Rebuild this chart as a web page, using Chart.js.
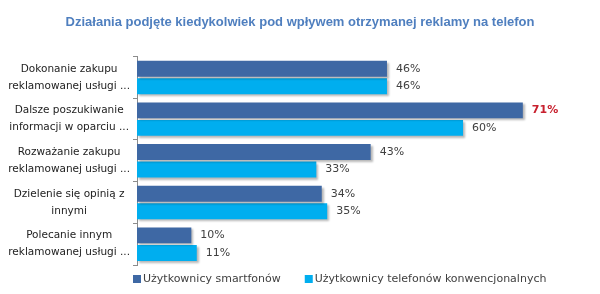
<!DOCTYPE html>
<html>
<head>
<meta charset="utf-8">
<script src="https://cdn.jsdelivr.net/npm/chart.js@4/dist/chart.umd.min.js"></script>
<style>
html,body{margin:0;padding:0;background:#fff;}
#wrap{width:600px;height:294px;position:relative;}
</style>
</head>
<body>
<div id="wrap"><canvas id="c" width="600" height="294"></canvas></div>
<script>
const titleText = 'Działania podjęte kiedykolwiek pod wpływem otrzymanej reklamy na telefon';
const categories = [
  ['Dokonanie zakupu', 'reklamowanej usługi ...'],
  ['Dalsze poszukiwanie', 'informacji w oparciu ...'],
  ['Rozważanie zakupu', 'reklamowanej usługi ...'],
  ['Dzielenie się opinią z', 'innymi'],
  ['Polecanie innym', 'reklamowanej usługi ...']
];
const seriesNames = ['Użytkownicy smartfonów', 'Użytkownicy telefonów konwencjonalnych'];
const smartfony = [46, 71, 43, 34, 10];
const konwencjonalne = [46, 60, 33, 35, 11];
const highlighted = [[1], []]; // indices shown in bold red per series
const seriesColors = ['#3E68A4', '#00AEEF'];

const labelPlugin = {
  id: 'valueLabels',
  afterDatasetsDraw(chart) {
    const ctx = chart.ctx;
    chart.data.datasets.forEach((ds, di) => {
      const meta = chart.getDatasetMeta(di);
      meta.data.forEach((bar, i) => {
        const hl = highlighted[di].includes(i);
        ctx.save();
        ctx.font = (hl ? 'bold ' : '') + '11px "DejaVu Sans", sans-serif';
        ctx.fillStyle = hl ? '#C8202E' : '#404040';
        ctx.textBaseline = 'middle';
        ctx.textAlign = 'left';
        ctx.fillText(ds.data[i] + '%', bar.x + 9, bar.y);
        ctx.restore();
      });
    });
  }
};
const shadowPlugin = {
  id: 'barShadow',
  beforeDatasetsDraw(chart) {
    const ctx = chart.ctx;
    ctx.save();
    ctx.shadowColor = 'rgba(0,0,0,0.28)';
    ctx.shadowOffsetX = 2;
    ctx.shadowOffsetY = 2;
    ctx.shadowBlur = 2;
  },
  afterDatasetsDraw(chart) {
    chart.ctx.restore();
  }
};
const legendPlugin = {
  id: 'customLegend',
  afterDraw(chart) {
    const ctx = chart.ctx;
    ctx.save();
    ctx.font = '11px "DejaVu Sans", sans-serif';
    ctx.textBaseline = 'middle';
    ctx.textAlign = 'left';
    let x = 133;
    const y = 279;
    chart.data.datasets.forEach((ds) => {
      ctx.fillStyle = ds.backgroundColor;
      ctx.fillRect(x, y - 4, 8, 8);
      ctx.fillStyle = '#404040';
      ctx.fillText(ds.label, x + 10, y);
      x += 10 + ctx.measureText(ds.label).width + 24;
    });
    ctx.restore();
  }
};

new Chart(document.getElementById('c'), {
  type: 'bar',
  data: {
    labels: categories,
    datasets: [
      { label: seriesNames[0], data: smartfony, backgroundColor: seriesColors[0], borderWidth: 0,
        categoryPercentage: 0.84, barPercentage: 0.91 },
      { label: seriesNames[1], data: konwencjonalne, backgroundColor: seriesColors[1], borderWidth: 0,
        categoryPercentage: 0.84, barPercentage: 0.91 }
    ]
  },
  options: {
    indexAxis: 'y',
    responsive: false,
    animation: false,
    layout: { padding: { top: 0, right: 0, left: 0, bottom: 29 } },
    scales: {
      x: { display: false, min: 0, max: 85.2 },
      y: {
        afterFit(scale) { scale.width = 137; },
        grid: { drawOnChartArea: false, drawTicks: true, tickLength: 4, color: '#8C8C8C', offset: true },
        border: { display: true, color: '#8C8C8C' },
        ticks: { color: '#222', crossAlign: 'center', font: { family: '"DejaVu Sans", sans-serif', size: 10.5, lineHeight: 1.6 }, padding: 3 }
      }
    },
    plugins: {
      title: {
        display: true, text: titleText, color: '#4F7FBF',
        font: { family: '"Liberation Sans", sans-serif', size: 13, weight: 'bold' },
        padding: { top: 15, bottom: 26 }
      },
      legend: { display: false },
      tooltip: { enabled: false }
    }
  },
  plugins: [shadowPlugin, labelPlugin, legendPlugin]
});
</script>
</body>
</html>
